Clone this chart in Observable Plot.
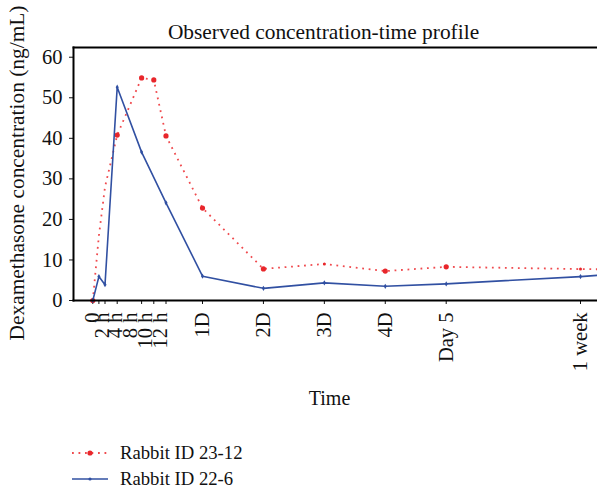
<!DOCTYPE html>
<html><head><meta charset="utf-8">
<script src="https://cdn.jsdelivr.net/npm/d3@7"></script>
<script src="https://cdn.jsdelivr.net/npm/@observablehq/plot@0.6"></script>
<style>
body{margin:0;background:#fff;font-family:"Liberation Serif","Times New Roman",serif;}
#legend{margin-top:10px;}
.item{display:flex;align-items:center;height:26.3px;padding-left:72px;font-size:18.7px;color:#111;}
.item svg{margin-right:12px;}
</style>
</head><body><div id="chart"></div><div id="legend"></div>
<script>
// ---- data ----
const title = "Observed concentration-time profile";
const yLabel = "Dexamethasone concentration (ng/mL)";
const xLabel = "Time";
const seriesNames = ["Rabbit ID 23-12", "Rabbit ID 22-6"];
const tickHours = [0, 1, 2, 4, 8, 10, 12, 24, 48, 72, 96, 120, 168];
const labelHours = [0, 1.5, 3.7, 6.2, 8.6, 11.1, 24, 48, 72, 96, 120, 168];
const tickLabels = ["0", "2 h", "4 h", "8 h", "10 h", "12 h", "1D", "2D", "3D", "4D", "Day 5", "1 week"];
const yTicks = [0, 10, 20, 30, 40, 50, 60];
const redHours = [0, 1, 2, 4, 8, 10, 12, 24, 48, 72, 96, 120, 168, 174];
const redValues = [0, 16, 28, 40.8, 54.9, 54.4, 40.6, 22.8, 7.8, 9.0, 7.25, 8.3, 7.75, 7.7];
const redBigMarkerHours = [0, 4, 8, 10, 12, 24, 48, 96, 120];
const redSmallMarkerHours = [72, 168];
const blueHours = [0, 1, 2, 4, 8, 12, 24, 48, 72, 96, 120, 168, 174];
const blueValues = [0, 5.9, 3.9, 52.6, 36.6, 24.1, 6.0, 3.0, 4.35, 3.5, 4.1, 5.9, 6.2];

const RED = "#e8262b", RED_LINE = "#f04a4e", BLUE = "#3150a2";
const lastTick = tickHours[tickHours.length - 1];
const red = redHours.map((h, i) => ({h, v: redValues[i]}));
const blue = blueHours.map((h, i) => ({h, v: blueValues[i]}));

const chart = Plot.plot({
  width: 597, height: 430,
  marginLeft: 73, marginRight: 0, marginTop: 47, marginBottom: 130,
  style: {fontFamily: '"Liberation Serif","Times New Roman",serif', fontSize: "20px", color: "#111", background: "#fff", overflow: "visible"},
  x: {type: "linear", domain: [0, 12, 24, 120, 168, 174], range: [92.3, 165.5, 202, 445.7, 580, 597]},
  y: {domain: [0, 62.4]},
  marks: [
    Plot.axisY({ticks: yTicks, tickSize: 4, tickPadding: 7, label: null, fontSize: 20.5}),
    Plot.axisX({ticks: tickHours, tickSize: 4, tickFormat: () => "", label: null}),
    Plot.text(tickLabels, {x: (d, i) => labelHours[i], text: d => d, frameAnchor: "bottom", rotate: -90, textAnchor: "end", lineAnchor: "middle", dy: 12, fontSize: 20.5}),
    Plot.line(red, {x: "h", y: "v", stroke: RED_LINE, strokeWidth: 1.8, strokeDasharray: "1.8,4.7", strokeLinecap: "butt"}),
    Plot.dot(red.filter(d => redBigMarkerHours.includes(d.h)), {x: "h", y: "v", r: 2.6, fill: RED, stroke: "none"}),
    Plot.dot(red.filter(d => redSmallMarkerHours.includes(d.h)), {x: "h", y: "v", r: 1.5, fill: RED, stroke: "none"}),
    Plot.line(blue, {x: "h", y: "v", stroke: BLUE, strokeWidth: 1.6}),
    Plot.dot(blue.filter(d => d.h <= lastTick), {x: "h", y: "v", r: 1.6, fill: BLUE, stroke: "none", symbol: "diamond"}),
    Plot.frame({anchor: "left", stroke: "#000", strokeWidth: 2}),
    Plot.frame({anchor: "bottom", stroke: "#000", strokeWidth: 2}),
    Plot.frame({anchor: "top", stroke: "#000", strokeWidth: 1.8}),
    Plot.text([title], {frameAnchor: "top", textAnchor: "middle", lineAnchor: "middle", dy: -15, dx: -12, fontSize: 21.4}),
    Plot.text([yLabel], {frameAnchor: "left", rotate: -90, textAnchor: "middle", lineAnchor: "middle", dx: -56, dy: -1, fontSize: 21.4}),
    Plot.text([xLabel], {frameAnchor: "bottom", textAnchor: "middle", lineAnchor: "middle", dy: 98, dx: -6, fontSize: 20})
  ]
});
document.getElementById("chart").appendChild(chart);

// ---- legend below the chart ----
const legend = document.getElementById("legend");
const swatches = [
  `<svg width="36" height="12"><line x1="0" y1="6" x2="36" y2="6" stroke="${RED_LINE}" stroke-width="1.8" stroke-dasharray="1.8,4.7"/><circle cx="18" cy="6" r="2.6" fill="${RED}"/></svg>`,
  `<svg width="36" height="12"><line x1="0" y1="6" x2="36" y2="6" stroke="${BLUE}" stroke-width="1.6"/><circle cx="18" cy="6" r="1.6" fill="${BLUE}"/></svg>`
];
seriesNames.forEach((name, i) => {
  const row = document.createElement("div");
  row.className = "item";
  row.innerHTML = swatches[i] + `<span>${name}</span>`;
  legend.appendChild(row);
});
</script>
</body></html>
